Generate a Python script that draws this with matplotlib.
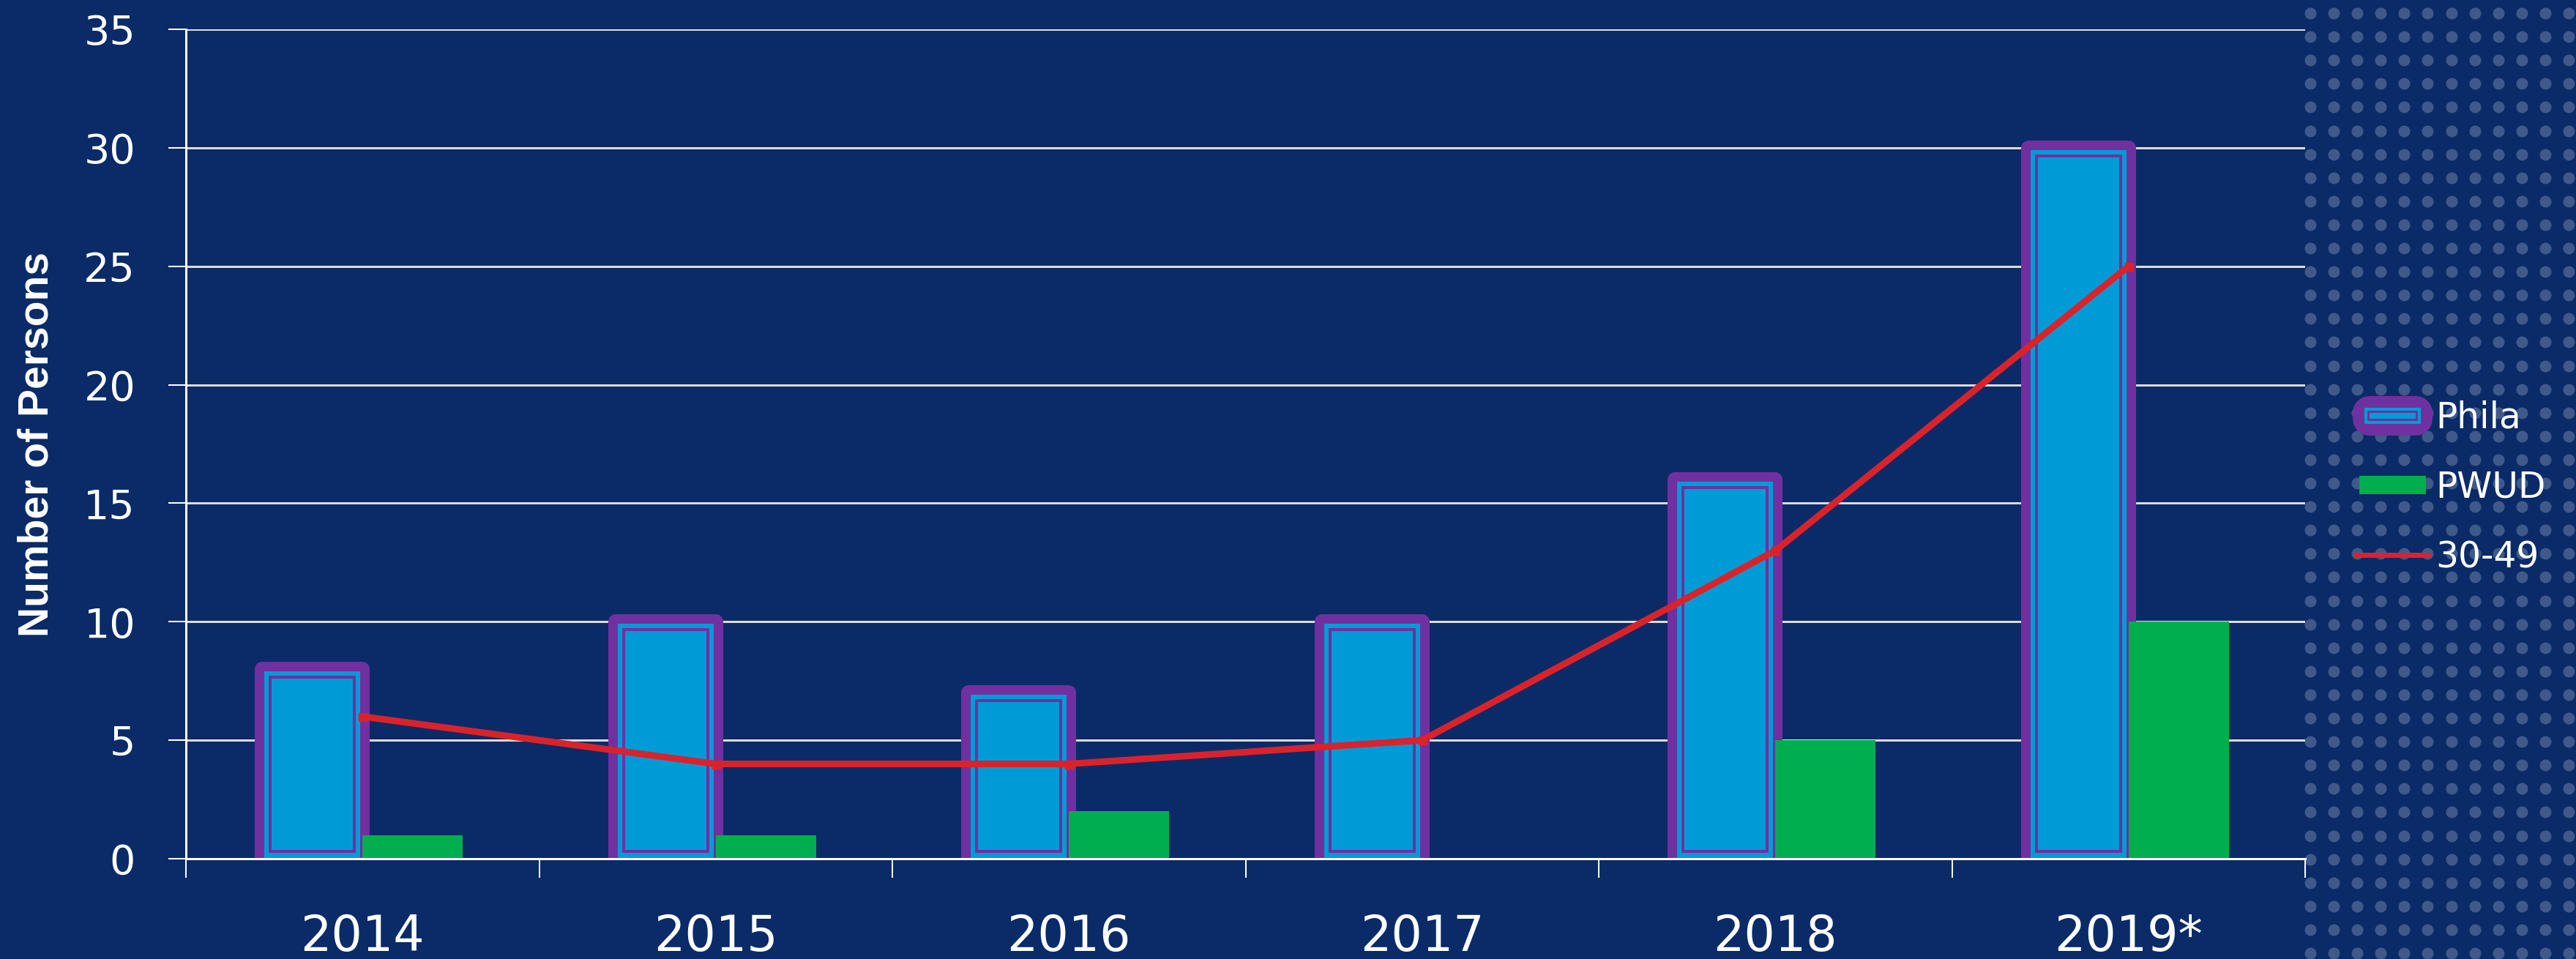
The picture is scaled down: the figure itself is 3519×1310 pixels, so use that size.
import numpy as np
import matplotlib
matplotlib.use("Agg")
import matplotlib.pyplot as plt
import matplotlib.patheffects as pe
from matplotlib.patches import Rectangle
from matplotlib.lines import Line2D
from matplotlib.legend_handler import HandlerPatch

# data
years = ["2014", "2015", "2016", "2017", "2018", "2019*"]
phila = [8, 10, 7, 10, 16, 30]
pwud = [1, 1, 2, 0, 5, 10]
age_30_49 = [6, 4, 4, 5, 13, 25]

BG = "#0a2b68"
CYAN = "#009bd7"
PURPLE = "#7030a0"
GREEN = "#00ae4f"
RED = "#d9232b"
GRID = "#dcdcdc"

DPI = 100
W, H = 3519, 1310
PT = 72 / DPI  # points per pixel

fig = plt.figure(figsize=(W / DPI, H / DPI), dpi=DPI, facecolor=BG)

# dotted band on the right (decoration)
deco = fig.add_axes([0, 0, 1, 1], zorder=0)
deco.set_xlim(0, W)
deco.set_ylim(H, 0)
deco.axis("off")
gx, gy = np.meshgrid(np.arange(3156, W + 16, 32.1), np.arange(18, H + 16, 32.1))
deco.scatter(gx.ravel(), gy.ravel(), s=(16 * PT) ** 2, color="white", alpha=0.22, linewidths=0)

ax = fig.add_axes([254 / W, 1 - 1173 / H, (3149 - 254) / W, (1173 - 40) / H], zorder=1)
ax.patch.set_visible(False)
x = np.arange(len(years))
ax.set_xlim(-0.5, len(years) - 0.5)
ax.set_ylim(0, 35)

# pixels per data unit, for the compound border of the Phila bars
sx = ax.transData.transform((1, 0))[0] - ax.transData.transform((0, 0))[0]
sy = ax.transData.transform((0, 1))[1] - ax.transData.transform((0, 0))[1]

bw = 0.284
xp = x - bw / 2
vals = np.array(phila, dtype=float)
ax.bar(xp, vals, bw, color=PURPLE, edgecolor=PURPLE, linewidth=20 * PT,
       joinstyle="round", zorder=2)
# inner rings: (side/top inset px, bottom px, colour)
for inset, bot, col in [(3, 0, CYAN), (9, 8, PURPLE), (13, 12, CYAN)]:
    ax.bar(xp, vals - inset / sy - bot / sy, bw - 2 * inset / sx, bottom=bot / sy,
           color=col, linewidth=0, zorder=2.1)
ax.bar(x + bw / 2, pwud, bw, color=GREEN, linewidth=0, zorder=2.2)
ax.plot(x, age_30_49, color=RED, lw=9 * PT, marker="s", ms=11 * PT, zorder=3)

# axes styling
ax.set_yticks(range(0, 36, 5))
ax.grid(axis="y", color=GRID, lw=3 * PT)
ax.set_axisbelow(True)
ax.tick_params(axis="y", colors="white", length=24 * PT, width=2 * PT, pad=45 * PT, labelsize=40)
ax.set_xticks(np.arange(-0.5, len(years), 1))
ax.set_xticklabels([])
ax.set_xticks(x, minor=True)
ax.set_xticklabels(years, minor=True)
ax.tick_params(axis="x", which="major", colors="white", length=26 * PT, width=2 * PT)
ax.tick_params(axis="x", which="minor", colors="white", length=0, pad=74 * PT, labelsize=48)
for s in ["top", "right"]:
    ax.spines[s].set_visible(False)
for s in ["left", "bottom"]:
    ax.spines[s].set_color("white")
    ax.spines[s].set_linewidth(3 * PT)

ax.set_ylabel("Number of Persons", fontsize=41, fontweight="bold", color="white",
              family=["Liberation Sans", "DejaVu Sans"])
ax.yaxis.set_label_coords((77 - 254) / (3149 - 254), 0.5)

# legend
def box(wpx, hpx):
    def make(legend, orig_handle, xdescent, ydescent, width, height, fontsize):
        w, h = wpx * PT, hpx * PT
        return Rectangle((-xdescent + (width - w) / 2, -ydescent + (height - h) / 2), w, h)
    return make

h_phila = Rectangle((0, 0), 1, 1, facecolor=CYAN, edgecolor="none",
                    path_effects=[pe.Stroke(linewidth=46 * PT, foreground=PURPLE, joinstyle="round"),
                                  pe.Stroke(linewidth=14 * PT, foreground=CYAN),
                                  pe.Stroke(linewidth=6 * PT, foreground=PURPLE),
                                  pe.Normal()])
h_pwud = Rectangle((0, 0), 1, 1, facecolor=GREEN, edgecolor="none")
h_line = Line2D([], [], color=RED, lw=7 * PT)
leg_fs = 35
ax.legend([h_phila, h_pwud, h_line], ["Phila", "PWUD", "30-49"],
          handler_map={h_phila: HandlerPatch(patch_func=box(63, 8)),
                       h_pwud: HandlerPatch(patch_func=box(91, 25))},
          loc="center left", bbox_to_anchor=(3218 / W, 1 - 666 / H), bbox_transform=fig.transFigure,
          frameon=False, fontsize=leg_fs, labelcolor="white", borderpad=0, borderaxespad=0,
          handlelength=100 * PT / leg_fs, handleheight=0.7, handletextpad=0.2, labelspacing=0.97)

fig.savefig("out.png", dpi=DPI, facecolor=BG)
